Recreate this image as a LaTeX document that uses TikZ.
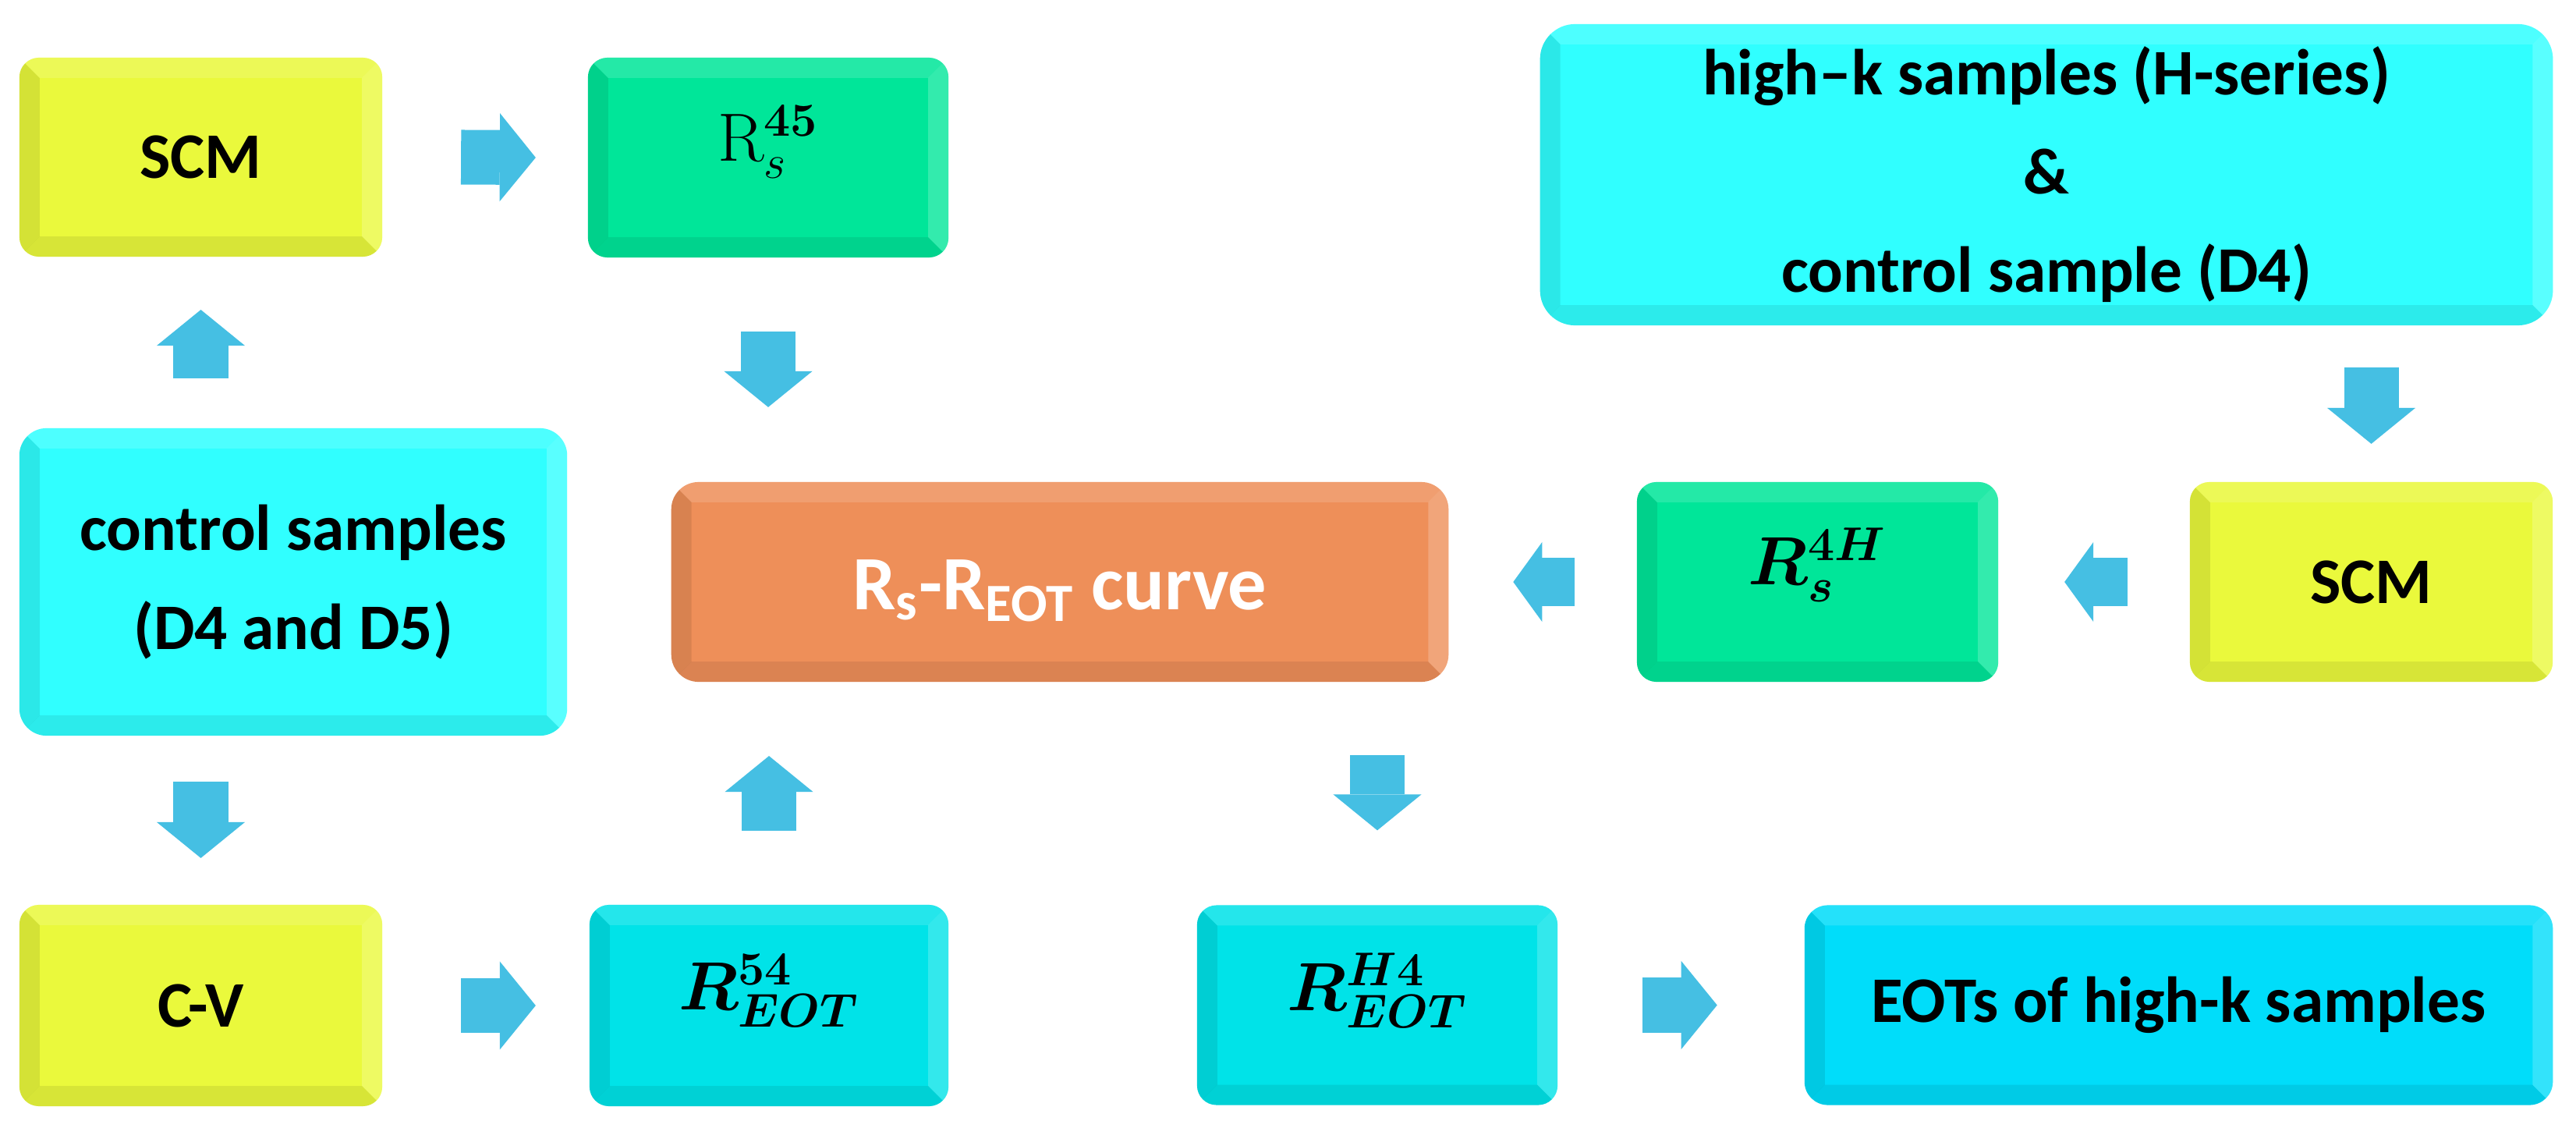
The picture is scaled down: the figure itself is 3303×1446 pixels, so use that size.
\documentclass[tikz,border=0pt]{standalone}
\usepackage[no-math]{fontspec}
\setmainfont{Carlito}
\usepackage{bm}
\usetikzlibrary{calc,arrows.meta}
\definecolor{yel}{HTML}{EAF93C}
\definecolor{grn}{HTML}{00E699}
\definecolor{cyl}{HTML}{30FFFF}
\definecolor{cyd}{HTML}{00E3E8}
\definecolor{cyb}{HTML}{00DDFA}
\definecolor{org}{HTML}{EE8F59}
\definecolor{arrc}{HTML}{45BFE3}
\newcommand\lblfont{\fontsize{23.7pt}{36pt}\selectfont\bfseries}
\newcommand\curvefont{\fontsize{28pt}{34pt}\selectfont\bfseries}
\newcommand\bevelbox[2]{%
  \begin{scope}
    \clip[rounded corners=#2] (#1.south west) rectangle (#1.north east);
    \fill[black, opacity=0.09] (#1.south west) -- (#1.north west) -- ($(#1.north west)+(26,26)$) -- ($(#1.south west)+(26,-26)$) -- cycle;
    \fill[black, opacity=0.08] (#1.south west) -- ($(#1.south west)+(26,-26)$) -- ($(#1.south east)+(-26,-26)$) -- (#1.south east) -- cycle;
    \fill[white, opacity=0.14] (#1.north west) -- (#1.north east) -- ($(#1.north east)+(-26,26)$) -- ($(#1.north west)+(26,26)$) -- cycle;
    \fill[white, opacity=0.20] (#1.north east) -- (#1.south east) -- ($(#1.south east)+(-26,-26)$) -- ($(#1.north east)+(-26,26)$) -- cycle;
  \end{scope}}
\begin{document}
\begin{tikzpicture}[x=0.01cm,y=-0.01cm,
  box/.style={rounded corners=0.25cm, inner sep=0pt, outer sep=0pt, align=center, font=\lblfont, text=black},
  txt/.style={inner sep=0pt, outer sep=0pt, align=center},
  blk/.style={draw=arrc, line width=0.70cm, -{Triangle[length=0.46cm, width=1.13cm, line width=0pt]}},
  blks/.style={draw=arrc, line width=0.62cm, -{Triangle[length=0.37cm, width=1.02cm, line width=0pt]}}]
\fill[white] (0,0) rectangle (3303,1446);
\useasboundingbox (0,0) rectangle (3303,1446);

% boxes
\node[box, fill=yel, minimum width=4.65cm, minimum height=2.55cm] (scm1) at (257.5,201.5) {SCM};
\node[box, fill=grn, minimum width=4.62cm, minimum height=2.56cm] (r45) at (985,202) {};
\node[box, fill=cyl, rounded corners=0.45cm, minimum width=12.98cm, minimum height=3.86cm] (highk) at (2624,224) {high–k samples (H-series)\\\&\\control sample (D4)};
\node[box, fill=cyl, rounded corners=0.35cm, minimum width=7.02cm, minimum height=3.94cm] (ctrl) at (376,746) {control samples\\(D4 and D5)};
\node[box, fill=org, rounded corners=0.35cm, minimum width=9.96cm, minimum height=2.56cm] (curve) at (1359,746) {};
\node[box, fill=grn, minimum width=4.63cm, minimum height=2.56cm] (r4h) at (2330.5,746) {};
\node[box, fill=yel, minimum width=4.65cm, minimum height=2.56cm] (scm2) at (3040.5,746) {SCM};
\node[box, fill=yel, minimum width=4.65cm, minimum height=2.58cm] (cv) at (257.5,1289) {C-V};
\node[box, fill=cyd, minimum width=4.60cm, minimum height=2.58cm] (r54) at (986,1289) {};
\node[box, fill=cyd, minimum width=4.62cm, minimum height=2.56cm] (rh4) at (1766,1288.5) {};
\node[box, fill=cyb, rounded corners=0.3cm, minimum width=9.59cm, minimum height=2.56cm] (eots) at (2793.5,1288.5) {EOTs of high-k samples};

% bevels
\bevelbox{scm1}{0.25cm}
\bevelbox{r45}{0.25cm}
\bevelbox{highk}{0.45cm}
\bevelbox{ctrl}{0.35cm}
\bevelbox{curve}{0.35cm}
\bevelbox{r4h}{0.25cm}
\bevelbox{scm2}{0.25cm}
\bevelbox{cv}{0.25cm}
\bevelbox{r54}{0.25cm}
\bevelbox{rh4}{0.25cm}
\bevelbox{eots}{0.3cm}

% labels drawn over the bevelled faces
\node[txt, font=\lblfont] (r45t) at ([yshift=0.2cm]r45.center) {$\mathrm{R}_{s}^{\mathbf{45}}$};
\node[txt, font=\lblfont] (r4ht) at ([yshift=0.22cm]r4h.center) {$\bm{R_{s}^{4H}}$};
\node[txt, font=\lblfont] (r54t) at ([yshift=0.19cm]r54.center) {$\bm{R^{54}_{EOT}}$};
\node[txt, font=\lblfont] (rh4t) at ([yshift=0.19cm]rh4.center) {$\bm{R^{H4}_{EOT}}$};
\node[txt, font=\curvefont, text=white] (curvet) at ([yshift=-0.11cm]curve.center) {R\textsubscript{s}-R\textsubscript{EOT} curve};

% block arrows
\draw[blk] ($(scm1.east)+(101,0)$) -- ($(r45.west)+(-67,0)$);
\draw[blk] ($(ctrl.north -| scm1.south)+(0,-64)$) -- ($(scm1.south)+(0,68)$);
\draw[blk] ($(r45.south)+(0,95)$) -- ($(curve.north -| r45.south)+(0,-96)$);
\draw[blk] ($(ctrl.south -| cv.north)+(0,59)$) -- ($(cv.north)+(0,-60)$);
\draw[blk] ($(cv.east)+(101,0)$) -- ($(r54.west)+(-69,0)$);
\draw[blk] ($(r54.north)+(0,-95)$) -- ($(curve.south -| r54.north)+(0,95)$);
\draw[blk] ($(highk.south -| scm2.north)+(0,54)$) -- ($(scm2.north)+(0,-49)$);
\draw[blks] ($(scm2.west)+(-80,0)$) -- ($(r4h.east)+(85,0)$);
\draw[blks] ($(r4h.west)+(-80,0)$) -- ($(curve.east)+(83,0)$);
\draw[blk] ($(curve.south -| rh4.north)+(0,94)$) -- ($(rh4.north)+(0,-96)$);
\draw[blk] ($(rh4.east)+(109,0)$) -- ($(eots.west)+(-112,0)$);
\end{tikzpicture}
\end{document}
